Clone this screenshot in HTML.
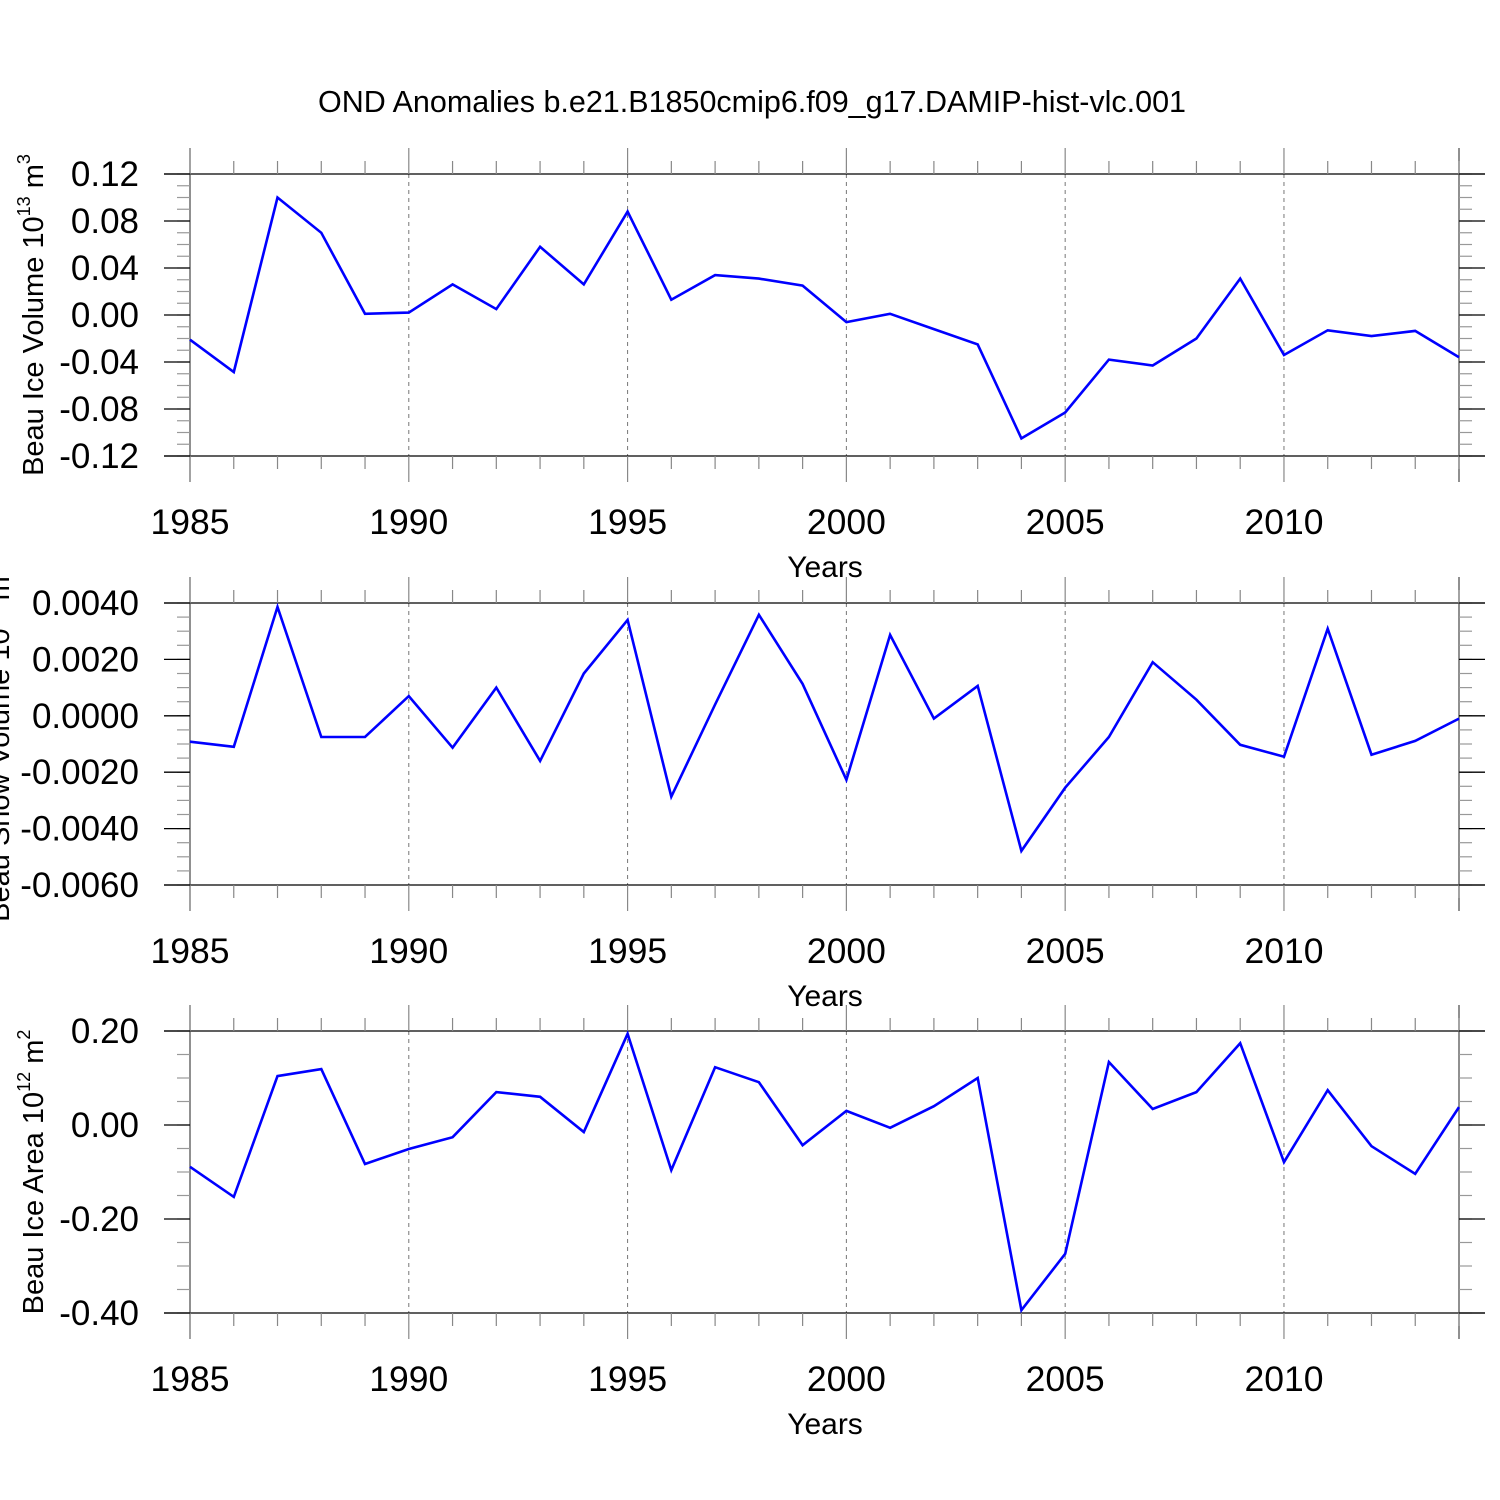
<!DOCTYPE html>
<html><head><meta charset="utf-8"><style>
html,body{margin:0;padding:0;background:#fff;}
svg{display:block;font-family:"Liberation Sans",sans-serif;}
</style></head><body>
<svg id="c" width="1500" height="1500" viewBox="0 0 1500 1500" xmlns="http://www.w3.org/2000/svg">
<defs><clipPath id="snowclip"><rect x="0" y="578" width="200" height="345"/></clipPath></defs>
<rect width="1500" height="1500" fill="#fff"/>
<text x="752" y="112" font-size="30.5" text-anchor="middle">OND Anomalies b.e21.B1850cmip6.f09_g17.DAMIP-hist-vlc.001</text>
</svg>
<script>
const years = [1985,1986,1987,1988,1989,1990,1991,1992,1993,1994,1995,1996,1997,1998,1999,2000,2001,2002,2003,2004,2005,2006,2007,2008,2009,2010,2011,2012,2013,2014];
const iceVolume = [-0.021,-0.0485,0.100,0.070,0.001,0.002,0.026,0.005,0.058,0.026,0.088,0.013,0.034,0.031,0.025,-0.006,0.001,-0.012,-0.025,-0.105,-0.083,-0.038,-0.043,-0.020,0.031,-0.034,-0.013,-0.018,-0.0135,-0.036];
const snowVolume = [-0.00092,-0.0011,0.00386,-0.00075,-0.00075,0.0007,-0.00113,0.001,-0.0016,0.0015,0.0034,-0.00287,0.0004,0.00358,0.00113,-0.00227,0.00287,-0.0001,0.00106,-0.00479,-0.00255,-0.00075,0.0019,0.00057,-0.00103,-0.00145,0.00309,-0.00138,-0.00089,-0.0001];
const iceArea = [-0.089,-0.153,0.104,0.119,-0.083,-0.051,-0.026,0.070,0.060,-0.015,0.194,-0.096,0.123,0.091,-0.043,0.030,-0.006,0.040,0.100,-0.394,-0.274,0.134,0.034,0.070,0.174,-0.079,0.074,-0.045,-0.104,0.038];
const xTickLabels = ["1985","1990","1995","2000","2005","2010"];
const volTicks = ["0.12","0.08","0.04","0.00","-0.04","-0.08","-0.12"];
const snowTicks = ["0.0040","0.0020","0.0000","-0.0020","-0.0040","-0.0060"];
const areaTicks = ["0.20","0.00","-0.20","-0.40"];

const svg = document.getElementById('c');
const NS = 'http://www.w3.org/2000/svg';
function mk(tag, attrs, parent){const e=document.createElementNS(NS,tag);for(const k in attrs)e.setAttribute(k,attrs[k]);(parent||svg).appendChild(e);return e;}
const X0=190, X1=1459, xMin=1985, xMax=2014;
const xs = v => X0 + (v - xMin) / (xMax - xMin) * (X1 - X0);

function panel(name, top, bottom, yMax, yMin, ticks, minorStep, data, titleParts, titleX, clip){
  const g = mk('g', {});
  
  
  const ys = v => top + (yMax - v) / (yMax - yMin) * (bottom - top);
  for (let y = 1990; y <= 2010; y += 5) {
    const l = mk('line', {x1:xs(y), x2:xs(y), y1:top, y2:bottom, stroke:'#777', 'stroke-width':1, 'stroke-dasharray':'4,4'}, g);
    
    
  }
  mk('line', {x1:X0-26, x2:X1+26, y1:top, y2:top, stroke:'#000','stroke-width':1.3}, g);
  mk('line', {x1:X0-26, x2:X1+26, y1:bottom, y2:bottom, stroke:'#000','stroke-width':1.3}, g);
  mk('line', {x1:X0, x2:X0, y1:top-26, y2:bottom+26, stroke:'#555','stroke-width':1.3}, g);
  mk('line', {x1:X1, x2:X1, y1:top-26, y2:bottom+26, stroke:'#555','stroke-width':1.3}, g);
  for (let y = xMin; y <= xMax; y++) {
    const major = (y % 5 === 0);
    const len = major ? 26 : 13;
    mk('line', {x1:xs(y), x2:xs(y), y1:top-len, y2:top, stroke:'#888','stroke-width':1.2}, g);
    mk('line', {x1:xs(y), x2:xs(y), y1:bottom, y2:bottom+len, stroke:'#888','stroke-width':1.2}, g);
  }
  xTickLabels.forEach(t => {
    const e = mk('text', {x:xs(+t), y:bottom+78, 'font-size':35.5, 'text-anchor':'middle'}, g);
    e.textContent = t;
    
    
  });
  const xt = mk('text', {x:825, y:bottom+121, 'font-size':30, 'text-anchor':'middle'}, g);
  xt.textContent = 'Years';
  
  
  for (let v = yMin; v <= yMax + 1e-9; v += minorStep) {
    const y = ys(v);
    mk('line', {x1:X0-13, x2:X0, y1:y, y2:y, stroke:'#999','stroke-width':1.2}, g);
    mk('line', {x1:X1, x2:X1+13, y1:y, y2:y, stroke:'#999','stroke-width':1.2}, g);
  }
  ticks.forEach(t => {
    const y = ys(parseFloat(t));
    mk('line', {x1:X0-26, x2:X0, y1:y, y2:y, stroke:'#000','stroke-width':1.3}, g);
    mk('line', {x1:X1, x2:X1+26, y1:y, y2:y, stroke:'#000','stroke-width':1.3}, g);
    const e = mk('text', {x:139, y:y+12, 'font-size':35, 'text-anchor':'end'}, g);
    e.textContent = t;
    
    
  });
  const cy = (top + bottom) / 2;
  const tg = mk('g', clip ? {'clip-path':'url(#snowclip)'} : {}, g);
  const yt = mk('text', {x:0, y:0, 'font-size':29, 'text-anchor':'middle', transform:`translate(${titleX},${cy}) rotate(-90)`}, tg);
  
  
  const t1 = mk('tspan', {}, yt); t1.textContent = titleParts[0] + ' 10';
  const t2 = mk('tspan', {'font-size':18, dy:-13}, yt); t2.textContent = titleParts[1];
  const t3 = mk('tspan', {dy:13}, yt); t3.textContent = ' m';
  const t4 = mk('tspan', {'font-size':18, dy:-13}, yt); t4.textContent = titleParts[2];
  const pts = data.map((v,i) => xs(years[i]).toFixed(1) + ',' + ys(v).toFixed(1)).join(' ');
  const pl = mk('polyline', {points:pts, fill:'none', stroke:'#0000ff', 'stroke-width':2.6, 'stroke-linejoin':'miter'}, g);
  
  
  return g;
}
panel('ice-volume', 174, 456, 0.12, -0.12, volTicks, 0.01, iceVolume, ['Beau Ice Volume','13','3'], 43, false);
panel('snow-volume', 603, 885, 0.004, -0.006, snowTicks, 0.0005, snowVolume, ['Beau Snow Volume','13','3'], 9, true);
panel('ice-area', 1031, 1313, 0.2, -0.4, areaTicks, 0.05, iceArea, ['Beau Ice Area','12','2'], 43, false);
</script>
</body></html>
